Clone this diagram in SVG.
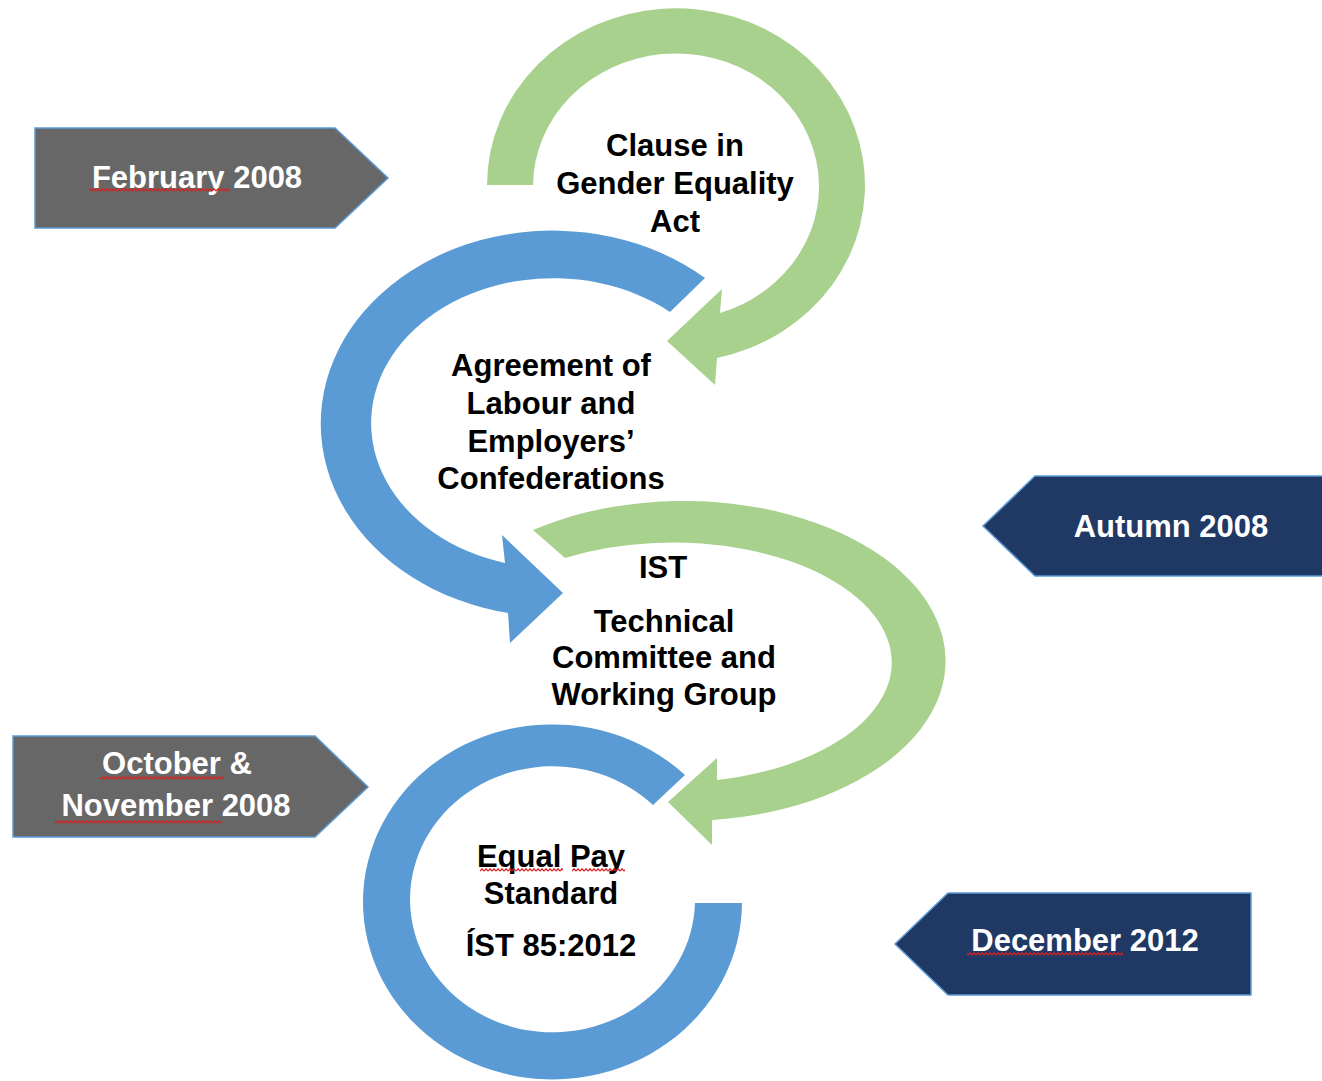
<svg xmlns="http://www.w3.org/2000/svg" width="1322" height="1081" viewBox="0 0 1322 1081">
<defs>
<style>
.t{font-family:"Liberation Sans",Arial,sans-serif;font-weight:bold;font-size:31px;text-anchor:middle;fill:#000}
.w{fill:#fff}
.grey{fill:#676767;stroke:#5b9bd5;stroke-width:1.5}
.navy{fill:#203864;stroke:#5b9bd5;stroke-width:1.5}
.g{fill:#a9d18e}
.b{fill:#5b9bd5}
.sq{fill:url(#sq)}
</style>
<pattern id="sq" x="0" y="0" width="4" height="4" patternUnits="userSpaceOnUse"><path d="M0,3.2 L2,0.8 L4,3.2" fill="none" stroke="#d81e1e" stroke-width="1.2"/></pattern>
</defs>
<rect width="1322" height="1081" fill="#fff"/>
<g id="connectors">
<path class="g" d="M487,185 A189,177 0 1 1 717,358 L715,385 L667,341 L722,289 L720,313 A143,133 0 1 0 533,185 Z"/>
<path class="b" d="M705,278 A232,193 0 1 0 508,613 L510,643 L563,593 L502,535 L505,563 A182,145 0 1 1 670,312 Z"/>
<path class="g" d="M533,530 A262,160 0 1 1 712,820 L712,845 L668,802 L717,758 L717,780 A219,120 0 1 0 565,558 Z"/>
<path class="b" d="M742,903 A189.5,177.5 0 1 1 685,775 L653,805 A142.5,133 0 1 0 695,903 Z"/>
</g>
<g id="node-clause">
<text class="t" x="675" y="156">Clause in</text>
<text class="t" x="675" y="194">Gender Equality</text>
<text class="t" x="675" y="232">Act</text>
</g>
<g id="node-agreement">
<text class="t" x="551" y="376">Agreement of</text>
<text class="t" x="551" y="414">Labour and</text>
<text class="t" x="551" y="452">Employers’</text>
<text class="t" x="551" y="489">Confederations</text>
</g>
<g id="node-ist">
<text class="t" x="663" y="578">IST</text>
<text class="t" x="664" y="632">Technical</text>
<text class="t" x="664" y="668">Committee and</text>
<text class="t" x="664" y="705">Working Group</text>
</g>
<g id="node-standard">
<text class="t" x="551" y="867">Equal Pay</text>
<rect class="sq" x="480" y="868" width="83" height="4"/>
<rect class="sq" x="572" y="868" width="53" height="4"/>
<text class="t" x="551" y="904">Standard</text>
<text class="t" x="551" y="956">ÍST 85:2012</text>
</g>
<g id="label-feb">
<polygon class="grey" points="35,128 335,128 388,178 335,228 35,228"/>
<text class="t w" x="197" y="188">February 2008</text>
<rect class="sq" x="89" y="188" width="140" height="4"/>
</g>
<g id="label-autumn">
<polygon class="navy" points="1035,476 1325,476 1325,576 1035,576 983,526"/>
<text class="t w" x="1171" y="537">Autumn 2008</text>
</g>
<g id="label-octnov">
<polygon class="grey" points="13,736 315,736 368,787 315,837 13,837"/>
<text class="t w" x="177" y="774">October &amp;</text>
<rect class="sq" x="100" y="776" width="124" height="4"/>
<text class="t w" x="176" y="816">November 2008</text>
<rect class="sq" x="55" y="820" width="166" height="4"/>
</g>
<g id="label-dec">
<polygon class="navy" points="948,893 1251,893 1251,995 948,995 895,944"/>
<text class="t w" x="1085" y="951">December 2012</text>
<rect class="sq" x="967" y="952" width="156" height="4"/>
</g>
</svg>
